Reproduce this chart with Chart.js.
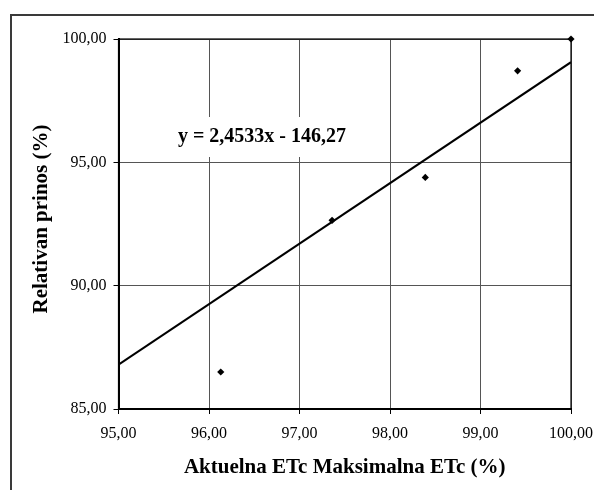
<!DOCTYPE html>
<html>
<head>
<meta charset="utf-8">
<script src="https://cdn.jsdelivr.net/npm/chart.js@4.4.0/dist/chart.umd.min.js"></script>
<style>
  html, body { margin: 0; padding: 0; background: #fff; }
  #chart { display: block; }
</style>
</head>
<body>
<canvas id="chart" width="594" height="490"></canvas>
<script>
// Relativan prinos vs. ETc ratio, scatter + linear trend

// Data
const etcRatio = [96.13, 97.36, 98.39, 99.41, 100.00];
const relYield = [86.50, 92.65, 94.39, 98.71, 100.00];
const trendX = [95.00, 100.00];
const trendY = [86.80, 99.06];
const xTickLabels = ['95,00', '96,00', '97,00', '98,00', '99,00', '100,00'];
const yTickLabels = ['85,00', '90,00', '95,00', '100,00'];
const equationText = 'y = 2,4533x - 146,27';
const xTitle = 'Aktuelna ETc Maksimalna ETc (%)';
const yTitle = 'Relativan prinos (%)';

const SERIF = '"Liberation Serif", "Times New Roman", serif';

// frame, plot border, titles and equation label
const decor = {
  id: 'decor',
  beforeDraw(chart){
    const c = chart.ctx;
    c.save();
    c.fillStyle = '#fff';
    c.fillRect(0, 0, chart.width, chart.height);
    c.strokeStyle = '#3a3a3a';
    c.lineWidth = 2;
    c.strokeRect(11, 15, chart.width + 20, chart.height + 20);
    c.restore();
  },
  afterDatasetsDraw(chart){
    const c = chart.ctx, a = chart.chartArea;
    c.save();
    // plot frame
    c.strokeStyle = '#000';
    c.lineWidth = 1.2;
    c.strokeRect(a.left, a.top, a.right - a.left, a.bottom - a.top);
    // equation box
    c.fillStyle = '#fff';
    c.fillRect(172, 117, 180, 40);
    c.fillStyle = '#000';
    c.font = 'bold 20px ' + SERIF;
    c.textAlign = 'center';
    c.textBaseline = 'middle';
    c.fillText(equationText, 262, 137);
    // axis titles
    c.font = 'bold 21px ' + SERIF;
    c.fillText(xTitle, (a.left + a.right) / 2, 468);
    c.translate(42, 219);
    c.rotate(-Math.PI / 2);
    c.fillText(yTitle, 0, 0);
    c.restore();
  }
};

const ctx = document.getElementById('chart').getContext('2d');
const chart = new Chart(ctx, {
  type: 'scatter',
  data: {
    datasets: [
      {
        label: 'Trend',
        type: 'line',
        data: trendX.map((x, i) => ({ x, y: trendY[i] })),
        borderColor: '#000',
        borderWidth: 2,
        pointRadius: 0,
        fill: false,
        order: 2
      },
      {
        label: 'Relativan prinos',
        data: etcRatio.map((x, i) => ({ x, y: relYield[i] })),
        pointStyle: 'rectRot',
        pointRadius: 3.6,
        backgroundColor: '#000',
        borderColor: '#000',
        borderWidth: 0,
        clip: false,
        order: 1
      }
    ]
  },
  options: {
    responsive: false,
    animation: false,
    events: [],
    layout: { padding: { left: 0, right: 23, top: 39, bottom: 0 } },
    plugins: { legend: { display: false }, tooltip: { enabled: false } },
    scales: {
      x: {
        type: 'linear',
        min: 95, max: 100,
        afterFit(s){ s.height = 81; s.paddingLeft = 0; s.paddingRight = 0; },
        afterBuildTicks(s){ s.ticks = xTickLabels.map((_, i) => ({ value: 95 + i })); },
        grid: { color: '#555', lineWidth: 1, tickLength: 5, tickColor: '#000' },
        border: { color: '#000', width: 2 },
        ticks: {
          font: { family: SERIF, size: 16 },
          color: '#000',
          padding: 10,
          maxRotation: 0,
          callback: (v, i) => xTickLabels[i]
        }
      },
      y: {
        type: 'linear',
        min: 85, max: 100,
        afterFit(s){ s.width = 118.5; s.paddingTop = 0; s.paddingBottom = 0; },
        afterBuildTicks(s){ s.ticks = yTickLabels.map((_, i) => ({ value: 85 + 5 * i })); },
        grid: { color: '#555', lineWidth: 1, tickLength: 5, tickColor: '#000' },
        border: { color: '#000', width: 2 },
        ticks: {
          font: { family: SERIF, size: 16 },
          color: '#000',
          padding: 7,
          callback: (v, i) => yTickLabels[i]
        }
      }
    }
  },
  plugins: [decor]
});
</script>
</body>
</html>
